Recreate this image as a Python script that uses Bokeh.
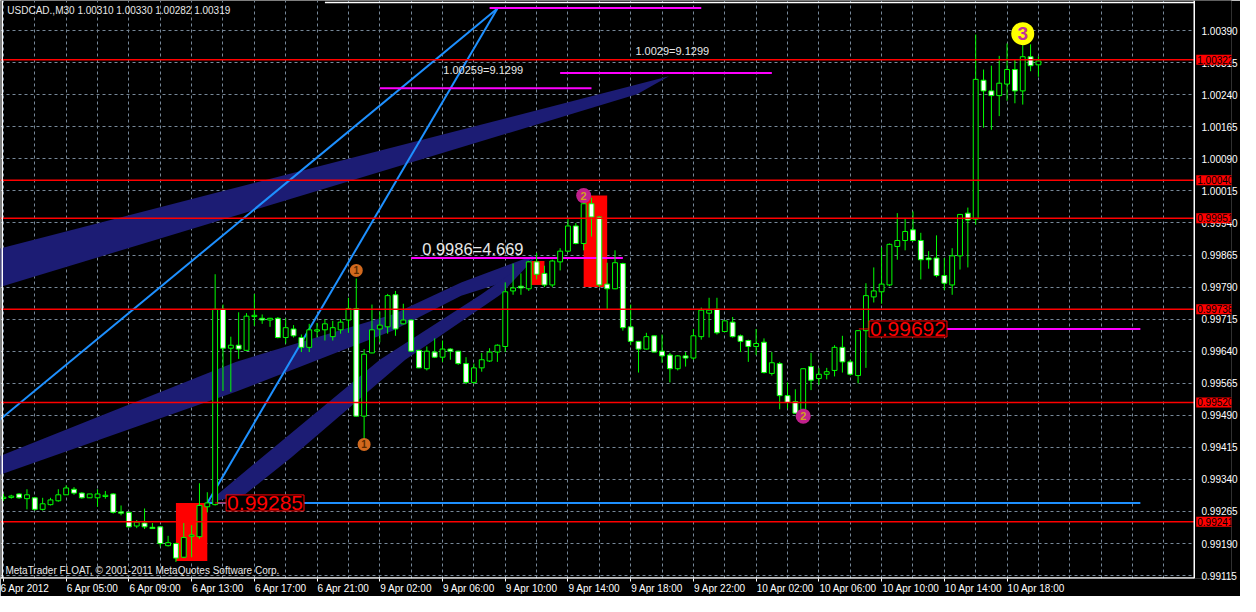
from bokeh.plotting import figure
from bokeh.models import (Range1d, FixedTicker, PrintfTickFormatter,
                          ColumnDataSource, Span, Label, BoxAnnotation)
from bokeh.core.properties import value
from bokeh.embed import file_html
from bokeh.resources import INLINE

# ---------------- data (USDCAD M30) ----------------
OPEN = [0.99297, 0.99299, 0.99306, 0.99295, 0.99297, 0.99270, 0.99281, 0.99290, 0.99304, 0.99317,
        0.99308, 0.99297, 0.99297, 0.99301, 0.99306, 0.99263, 0.99263, 0.99231, 0.99238, 0.99227,
        0.99229, 0.99185, 0.99190, 0.99158, 0.99208, 0.99206, 0.99276, 0.99281, 0.99738, 0.99647,
        0.99654, 0.99642, 0.99722, 0.99717, 0.99713, 0.99717, 0.99672, 0.99692, 0.99672, 0.99649,
        0.99688, 0.99690, 0.99674, 0.99690, 0.99713, 0.99740, 0.99488, 0.99636, 0.99692, 0.99697,
        0.99772, 0.99704, 0.99713, 0.99642, 0.99599, 0.99638, 0.99626, 0.99645, 0.99640, 0.99611,
        0.99567, 0.99601, 0.99617, 0.99638, 0.99651, 0.99781, 0.99792, 0.99786, 0.99849, 0.99822,
        0.99795, 0.99849, 0.99874, 0.99933, 0.99892, 0.99985, 0.99954, 0.99797, 0.99786, 0.99845,
        0.99697, 0.99663, 0.99645, 0.99676, 0.99640, 0.99631, 0.99599, 0.99629, 0.99624, 0.99674,
        0.99729, 0.99738, 0.99686, 0.99708, 0.99676, 0.99665, 0.99651, 0.99661, 0.99588, 0.99611,
        0.99536, 0.99522, 0.99504, 0.99604, 0.99576, 0.99586, 0.99595, 0.99649, 0.99615, 0.99583,
        0.99688, 0.99767, 0.99779, 0.99795, 0.99885, 0.99899, 0.99924, 0.99899, 0.99858, 0.99858,
        0.99817, 0.99795, 0.99863, 0.99963, 0.99949, 1.00274, 1.00249, 1.00238, 1.00265, 1.00299,
        1.00249, 1.00329, 1.00310]
HIGH = [0.99306, 0.99304, 0.99308, 0.99317, 0.99299, 0.99297, 0.99297, 0.99317, 0.99326, 0.99322,
        0.99310, 0.99306, 0.99317, 0.99313, 0.99308, 0.99279, 0.99264, 0.99245, 0.99272, 0.99238,
        0.99231, 0.99208, 0.99192, 0.99238, 0.99233, 0.99331, 0.99310, 0.99820, 0.99749, 0.99674,
        0.99731, 0.99729, 0.99774, 0.99726, 0.99718, 0.99720, 0.99717, 0.99701, 0.99679, 0.99704,
        0.99706, 0.99715, 0.99711, 0.99715, 0.99765, 0.99810, 0.99645, 0.99749, 0.99733, 0.99774,
        0.99781, 0.99751, 0.99715, 0.99643, 0.99651, 0.99670, 0.99665, 0.99647, 0.99641, 0.99626,
        0.99611, 0.99636, 0.99647, 0.99656, 0.99801, 0.99845, 0.99822, 0.99851, 0.99870, 0.99840,
        0.99854, 0.99881, 0.99949, 0.99940, 0.99995, 0.99999, 0.99956, 0.99847, 0.99876, 0.99847,
        0.99749, 0.99664, 0.99683, 0.99677, 0.99679, 0.99636, 0.99631, 0.99638, 0.99692, 0.99742,
        0.99765, 0.99765, 0.99712, 0.99720, 0.99679, 0.99667, 0.99692, 0.99670, 0.99638, 0.99615,
        0.99567, 0.99551, 0.99599, 0.99636, 0.99601, 0.99601, 0.99654, 0.99676, 0.99620, 0.99689,
        0.99799, 0.99836, 0.99883, 0.99892, 0.99963, 0.99951, 0.99967, 0.99917, 0.99874, 0.99911,
        0.99858, 0.99881, 0.99961, 0.99976, 1.00381, 1.00299, 1.00308, 1.00331, 1.00360, 1.00322,
        1.00356, 1.00358, 1.00330]
LOW = [0.99290, 0.99295, 0.99295, 0.99270, 0.99267, 0.99267, 0.99279, 0.99288, 0.99304, 0.99304,
       0.99295, 0.99297, 0.99276, 0.99295, 0.99260, 0.99256, 0.99228, 0.99226, 0.99224, 0.99224,
       0.99183, 0.99183, 0.99147, 0.99156, 0.99158, 0.99201, 0.99263, 0.99279, 0.99547, 0.99545,
       0.99622, 0.99641, 0.99699, 0.99704, 0.99697, 0.99670, 0.99658, 0.99672, 0.99638, 0.99638,
       0.99672, 0.99665, 0.99665, 0.99681, 0.99683, 0.99487, 0.99433, 0.99635, 0.99661, 0.99681,
       0.99676, 0.99703, 0.99638, 0.99601, 0.99595, 0.99624, 0.99615, 0.99620, 0.99608, 0.99563,
       0.99563, 0.99592, 0.99615, 0.99615, 0.99638, 0.99772, 0.99772, 0.99781, 0.99808, 0.99790,
       0.99790, 0.99829, 0.99872, 0.99890, 0.99876, 0.99908, 0.99790, 0.99738, 0.99785, 0.99688,
       0.99654, 0.99590, 0.99644, 0.99638, 0.99613, 0.99567, 0.99595, 0.99604, 0.99620, 0.99667,
       0.99672, 0.99679, 0.99685, 0.99672, 0.99638, 0.99615, 0.99631, 0.99588, 0.99583, 0.99504,
       0.99506, 0.99494, 0.99501, 0.99549, 0.99561, 0.99574, 0.99581, 0.99590, 0.99583, 0.99565,
       0.99601, 0.99754, 0.99751, 0.99792, 0.99854, 0.99876, 0.99897, 0.99808, 0.99833, 0.99813,
       0.99783, 0.99772, 0.99831, 0.99836, 0.99936, 1.00163, 1.00158, 1.00190, 1.00226, 1.00220,
       1.00217, 1.00295, 1.00282]
CLOSE = [0.99297, 0.99300, 0.99297, 0.99304, 0.99270, 0.99283, 0.99292, 0.99304, 0.99320, 0.99308,
         0.99297, 0.99306, 0.99306, 0.99302, 0.99263, 0.99262, 0.99229, 0.99240, 0.99229, 0.99226,
         0.99190, 0.99192, 0.99156, 0.99204, 0.99209, 0.99279, 0.99285, 0.99738, 0.99647, 0.99654,
         0.99645, 0.99722, 0.99723, 0.99713, 0.99717, 0.99672, 0.99695, 0.99676, 0.99649, 0.99690,
         0.99689, 0.99704, 0.99695, 0.99708, 0.99740, 0.99488, 0.99633, 0.99690, 0.99701, 0.99770,
         0.99692, 0.99713, 0.99640, 0.99601, 0.99640, 0.99626, 0.99645, 0.99640, 0.99611, 0.99567,
         0.99601, 0.99620, 0.99638, 0.99654, 0.99779, 0.99788, 0.99788, 0.99849, 0.99820, 0.99795,
         0.99851, 0.99874, 0.99933, 0.99892, 0.99985, 0.99954, 0.99795, 0.99786, 0.99847, 0.99695,
         0.99663, 0.99645, 0.99674, 0.99638, 0.99629, 0.99599, 0.99629, 0.99624, 0.99676, 0.99736,
         0.99736, 0.99683, 0.99711, 0.99674, 0.99663, 0.99651, 0.99658, 0.99590, 0.99613, 0.99536,
         0.99520, 0.99495, 0.99599, 0.99572, 0.99586, 0.99592, 0.99649, 0.99615, 0.99586, 0.99688,
         0.99770, 0.99781, 0.99797, 0.99890, 0.99899, 0.99920, 0.99899, 0.99854, 0.99854, 0.99817,
         0.99799, 0.99863, 0.99960, 0.99947, 1.00276, 1.00249, 1.00238, 1.00267, 1.00299, 1.00249,
         1.00329, 1.00308, 1.00319]
BAR_INDEX = list(range(len(OPEN)))

X_TICK_BARS = [0, 8, 16, 24, 32, 40, 48, 56, 64, 72, 80, 88, 96, 104, 112, 120, 128]
X_TICK_LABELS = ["6 Apr 2012", "6 Apr 05:00", "6 Apr 09:00", "6 Apr 13:00", "6 Apr 17:00",
                 "6 Apr 21:00", "9 Apr 02:00", "9 Apr 06:00", "9 Apr 10:00", "9 Apr 14:00",
                 "9 Apr 18:00", "9 Apr 22:00", "10 Apr 02:00", "10 Apr 06:00", "10 Apr 10:00",
                 "10 Apr 14:00", "10 Apr 18:00"]
Y_TICKS = [0.99115, 0.99190, 0.99265, 0.99340, 0.99415, 0.99490, 0.99565, 0.99640, 0.99715,
           0.99790, 0.99865, 0.99940, 1.00015, 1.00090, 1.00165, 1.00240, 1.00315, 1.00390]
RED_LEVELS = [1.00322, 1.00040, 0.99951, 0.99738, 0.99520, 0.99241]

TITLE_TEXT = "USDCAD.,M30  1.00310 1.00330 1.00282 1.00319"
COPYRIGHT_TEXT = "MetaTrader FLOAT, \u00a9 2001-2011 MetaQuotes Software Corp."

# chart objects (bar index / price)
RECT_LEFT = [22, 74, 67]
RECT_RIGHT = [26, 77, 69]
RECT_TOP = [0.99285, 1.00004, 0.99851]
RECT_BOTTOM = [0.99149, 0.99790, 0.99795]

BAND_BARS = [
    [-1.375, 84.875, 80.875, -1.375],
    [-1.375, 29.625, 49.625, 58.375, 67.75, 64.625, 58.375, 49.625, 29.625, -1.375],
    [26, 33, 48, 60.875, 68.125, 63.375, 51.25, 36.75, 30.875],
]
BAND_PRICES = [
    [0.99876, 1.00283, 1.00242, 0.99785],
    [0.99388, 0.99615, 0.99726, 0.99801, 0.99865, 0.99806, 0.99770, 0.99688, 0.99545, 0.99345],
    [0.99285, 0.99392, 0.99620, 0.99772, 0.99865, 0.99772, 0.99620, 0.99392, 0.99306],
]

TREND_BARS = [[-1.5, 63], [26, 63]]
TREND_PRICES = [[0.99464, 1.00442], [0.99285, 1.00442]]

MAG_START = [62, 71, 48, 52, 120]
MAG_END = [89, 98, 75, 79, 145]
MAG_PRICE = [1.00443, 1.00291, 1.00255, 0.99858, 0.99692]

BLUE_H_START, BLUE_H_END, BLUE_H_PRICE = 26, 145, 0.99285

NOTE_TEXT = ["1.00259=9.1299", "1.0029=9.1299", "0.9986=4.669"]
NOTE_BAR = [56.1, 80.6, 53.4]
NOTE_PRICE = [1.00299, 1.00342, 0.99879]
NOTE_SIZE = ["11px", "11px", "16.5px"]

PBOX_TEXT = ["0.99285", "0.99692"]
PBOX_BAR = [28.4, 110.4]
PBOX_PRICE = [0.99285, 0.99692]
PBOX_LINK_START = [27.0, 109.1]

MARK_TEXT = ["1", "1", "2", "2", "3"]
MARK_BAR = [45, 46, 74, 102, 130]
MARK_PRICE = [0.99829, 0.99422, 1.00004, 0.99488, 1.00383]
MARK_SIZE = [13, 13, 15, 15, 23]
MARK_FILL = ["#d2691e", "#d2691e", "#c0208c", "#c0208c", "#ffff00"]
MARK_TCOLOR = ["#5a2a00", "#5a2a00", "#d0a020", "#d0a020", "#c0309b"]
MARK_FS = ["10px", "10px", "11px", "11px", "19px"]

# ---------------- figure ----------------
FONT = "Liberation Sans"
AXIS_FS = 10           # px
Y_MIN, Y_MAX = 0.991082, 1.004605
CHART_END = 151.875    # right edge of the candle area (bars); price scale lies beyond it
p = figure(width=1240, height=596, x_range=Range1d(-0.375, 156.625),
           y_range=Range1d(Y_MIN, Y_MAX), y_axis_location="right",
           output_backend="svg", toolbar_location=None)
p.background_fill_color = "black"
p.border_fill_color = "black"
p.outline_line_color = None
p.min_border_left = 0
p.min_border_top = 0
p.min_border_right = 0
p.min_border_bottom = 15

grid_col = "#778899"
p.xgrid.ticker = FixedTicker(ticks=list(range(0, 152, 4)))
p.xgrid.grid_line_color = grid_col
p.xgrid.grid_line_dash = "3 3"
p.ygrid.grid_line_color = grid_col
p.ygrid.grid_line_dash = "3 3"

# Bottom labels start at their tick (MetaTrader style): pad the left side with
# non-breaking spaces as wide as the label so that the centred text begins at the tick.
_W = {" ": 0.278, "A": 0.667, "p": 0.556, "r": 0.333, ":": 0.278}


def _left_aligned(lbl):
    w = sum(_W.get(ch, 0.556) for ch in lbl)
    return "\u00a0" * int(round(w / 0.278)) + lbl


xlabels = {b: _left_aligned(t) for b, t in zip(X_TICK_BARS, X_TICK_LABELS)}
xlabels[X_TICK_BARS[0]] = X_TICK_LABELS[0]
p.xaxis.ticker = FixedTicker(ticks=X_TICK_BARS)
p.xaxis.major_label_overrides = xlabels
p.yaxis.ticker = FixedTicker(ticks=Y_TICKS)
p.yaxis.formatter = PrintfTickFormatter(format="%.5f")
for ax in (p.xaxis, p.yaxis):
    ax.axis_line_color = "white"
    ax.major_tick_line_color = "white"
    ax.minor_tick_line_color = None
    ax.major_tick_in = 0
    ax.major_tick_out = 3
    ax.major_label_standoff = 2
    ax.major_label_text_color = "white"
    ax.major_label_text_font = FONT
    ax.major_label_text_font_size = f"{AXIS_FS}px"
p.xaxis.major_label_standoff = 1
p.xaxis.axis_line_color = None
# price scale drawn just right of the candle area (MetaTrader style)
p.yaxis.axis_line_color = None
p.yaxis.major_tick_line_color = None
p.yaxis.major_tick_out = 0
p.yaxis.major_label_standoff = -30

# keep the grid out of the price-scale strip
p.add_layout(BoxAnnotation(left=CHART_END, fill_color="black", fill_alpha=1.0,
                           line_color=None, level="underlay"))

# red rectangles
p.quad(left=RECT_LEFT, right=RECT_RIGHT, top=RECT_TOP, bottom=RECT_BOTTOM,
       fill_color="red", line_color=None)
# navy ribbons
p.patches(xs=BAND_BARS, ys=BAND_PRICES, fill_color="#1c1c74", line_color=None)
# blue trend lines
p.multi_line(xs=TREND_BARS, ys=TREND_PRICES, line_color="#1e90ff", line_width=2)
p.segment(x0=[BLUE_H_START], y0=[BLUE_H_PRICE], x1=[BLUE_H_END], y1=[BLUE_H_PRICE],
          line_color="#1e90ff", line_width=2)
# magenta levels
p.segment(x0=MAG_START, y0=MAG_PRICE, x1=MAG_END, y1=MAG_PRICE,
          line_color="#ff00ff", line_width=2)

# candles
tops, bots, fills = [], [], []
for o, c in zip(OPEN, CLOSE):
    t, b = max(o, c), min(o, c)
    if t - b < 0.00003:
        m = (t + b) / 2
        t, b = m + 0.000015, m - 0.000015
    tops.append(t)
    bots.append(b)
    fills.append("white" if c < o else "black")
src = ColumnDataSource(dict(x=BAR_INDEX, high=HIGH, low=LOW, top=tops, bottom=bots, fill=fills))
p.segment(x0="x", y0="low", x1="x", y1="high", source=src, line_color="#00ff00", line_width=1)
p.vbar(x="x", width=0.62, top="top", bottom="bottom", source=src,
       fill_color="fill", line_color="#00ff00", line_width=1)

# red horizontal levels across the candle area
p.segment(x0=[-1] * len(RED_LEVELS), y0=RED_LEVELS, x1=[CHART_END] * len(RED_LEVELS),
          y1=RED_LEVELS, line_color="#ff0000", line_width=1.5)

# chart frame (white) around the candle area
p.add_layout(Span(location=CHART_END, dimension="height", line_color="white", line_width=1.5))
p.add_layout(Span(location=-0.15, dimension="height", line_color="white", line_width=1.5))
p.segment(x0=[41], y0=[1.00456], x1=[CHART_END], y1=[1.00456], line_color="white", line_width=1.5)
p.segment(x0=[-1], y0=[Y_MIN], x1=[CHART_END], y1=[Y_MIN], line_color="white", line_width=2.5)

# price boxes with connectors
p.segment(x0=PBOX_LINK_START, y0=PBOX_PRICE, x1=PBOX_BAR, y1=PBOX_PRICE,
          line_color="red", line_width=1)
for t, b, pr in zip(PBOX_TEXT, PBOX_BAR, PBOX_PRICE):
    p.add_layout(Label(x=b, y=pr, text=t, text_color="red", text_font=FONT,
                       text_font_size="21px", text_baseline="middle", text_align="left",
                       background_fill_color="black", border_line_color="red",
                       border_line_width=1, padding=1))

# notes
for t, b, pr, fs in zip(NOTE_TEXT, NOTE_BAR, NOTE_PRICE, NOTE_SIZE):
    p.add_layout(Label(x=b, y=pr, text=t, text_color="#e8e8e8", text_font=FONT,
                       text_font_size=fs, text_baseline="middle", text_align="left"))

# numbered markers
msrc = ColumnDataSource(dict(x=MARK_BAR, y=MARK_PRICE, t=MARK_TEXT, s=MARK_SIZE,
                             f=MARK_FILL, tc=MARK_TCOLOR, fs=MARK_FS))
p.scatter(x="x", y="y", size="s", fill_color="f", line_color=None, source=msrc)
p.text(x="x", y="y", text="t", text_color="tc", text_font_size="fs",
       text_font=value(FONT), text_font_style="bold", text_align="center",
       text_baseline="middle", source=msrc)

# header and footer texts
p.add_layout(Label(x=0.5, y=1.00436, text=TITLE_TEXT, text_color="#e8e8e8", text_font=FONT,
                   text_font_size="10px", text_baseline="middle", text_align="left"))
p.add_layout(Label(x=0.25, y=0.99126, text=COPYRIGHT_TEXT, text_color="#e8e8e8", text_font=FONT,
                   text_font_size="10px", text_baseline="middle", text_align="left"))

# red price tags on the price scale
for lvl in RED_LEVELS:
    p.add_layout(Label(x=CHART_END, y=lvl, x_offset=2, text=f"{lvl:.5f}", text_color="black",
                       text_font=FONT, text_font_size=f"{AXIS_FS}px", text_baseline="middle",
                       text_align="left", background_fill_color="#ff0000", padding=1))

open("out.html", "w").write(file_html(p, INLINE))
